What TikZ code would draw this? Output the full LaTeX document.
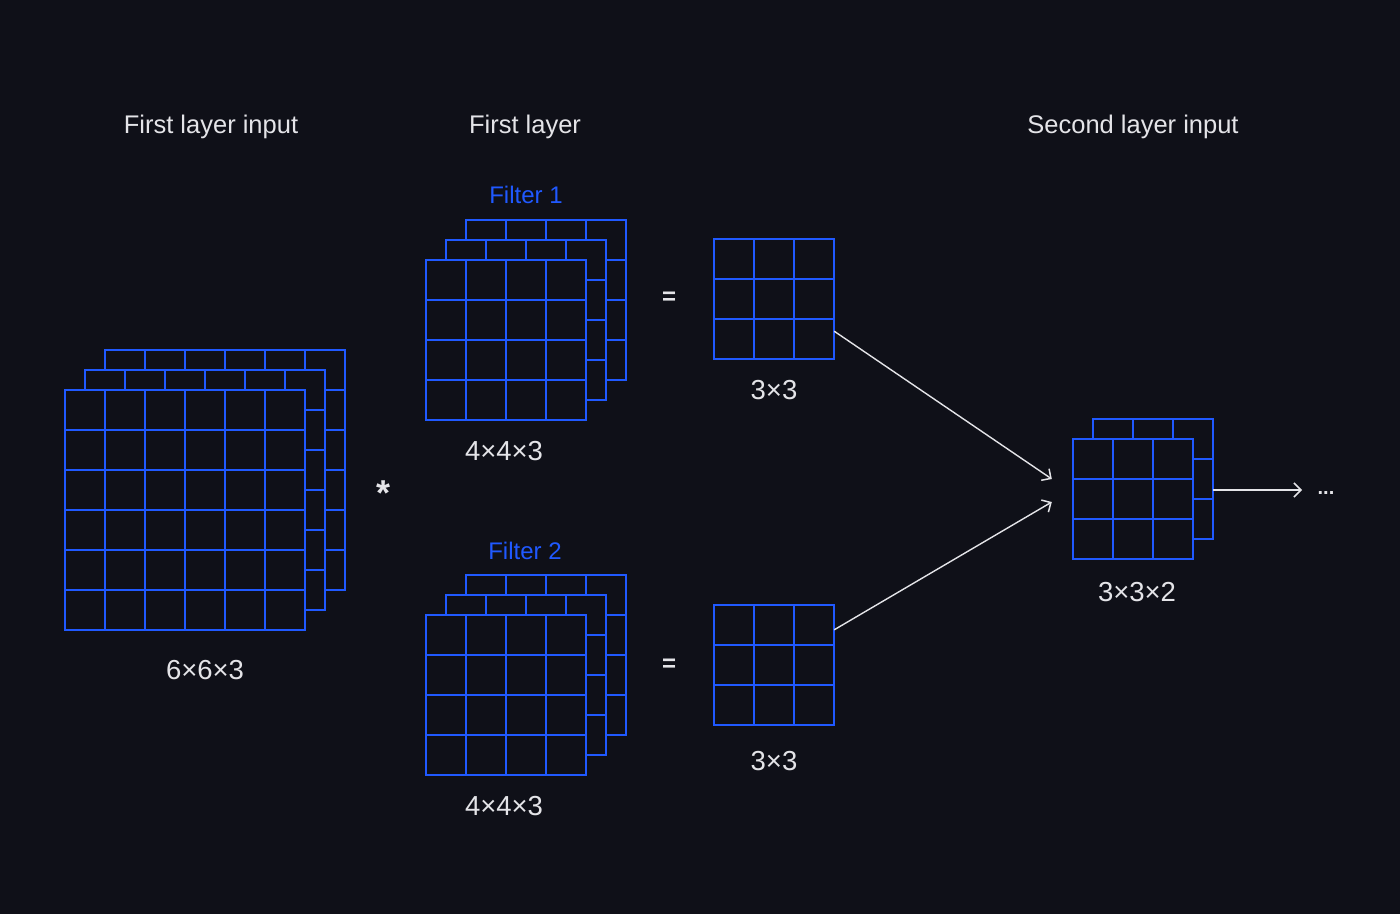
\documentclass[tikz,border=0pt]{standalone}
\usepackage{fontspec}
\setmainfont{Liberation Sans}
\usetikzlibrary{arrows.meta,calc}
\definecolor{bg}{HTML}{0F1018}
\definecolor{gridblue}{HTML}{2059FF}
\definecolor{fg}{HTML}{E4E4E8}
\tikzset{
  cell/.style={draw=gridblue,line width=2.7pt,fill=bg},
  lbl/.style={text=fg,anchor=base,inner sep=0pt,font=\fontsize{25.5}{30}\selectfont},
  dimlbl/.style={lbl,font=\fontsize{27.5}{32}\selectfont},
  flbl/.style={lbl,text=gridblue,font=\fontsize{24}{29}\selectfont},
  link/.style={draw=fg,line width=1.4pt,-{Straight Barb[length=7pt,width=14pt,line width=1.5pt]}}
}
% one stack of layers: name, x, y (front top left), cells, layers back to front
\newcommand{\stack}[5]{%
  \pgfmathtruncatemacro\m{#4-1}
  \foreach \k in {#5}{
    \begin{scope}[shift={(#2+20*\k,#3-20*\k)}]
      \filldraw[cell] (0,0) rectangle (40*#4,40*#4);
      \foreach \i in {1,...,\m}{
        \draw[cell] (40*\i,0) -- (40*\i,40*#4);
        \draw[cell] (0,40*\i) -- (40*#4,40*\i);
      }
    \end{scope}
  }
  \node[inner sep=0pt,minimum size=#4*40pt] (#1) at (#2+20*#4,#3+20*#4) {};
}
\begin{document}
\begin{tikzpicture}[x=1pt,y=-1pt]
  \fill[bg] (0,0) rectangle (1400,914);

  \stack{in}{65}{390}{6}{2,1,0}
  \stack{fa}{426}{260}{4}{2,1,0}
  \stack{fb}{426}{615}{4}{2,1,0}
  \stack{oa}{714}{239}{3}{0}
  \stack{ob}{714}{605}{3}{0}
  \stack{s}{1073}{439}{3}{1,0}

  \node (t1) at (211,133)[lbl]{First layer input};
  \node (t2) at (525,133)[lbl]{First layer};
  \node (t3) at (1133,133)[lbl]{Second layer input};
  \node (f1) at (526,203)[flbl]{Filter 1};
  \node (f2) at (525,559)[flbl]{Filter 2};

  \node (d1) at (205,679)[dimlbl]{6×6×3};
  \node (d2) at (504,460)[dimlbl]{4×4×3};
  \node (d3) at (504,815)[dimlbl]{4×4×3};
  \node (d4) at (774,399)[dimlbl]{3×3};
  \node (d5) at (774,770)[dimlbl]{3×3};
  \node (d6) at (1137,601)[dimlbl]{3×3×2};

  \node (star) at (384,505)[lbl,font=\fontsize{36}{40}\selectfont\bfseries]{*};
  \node (eqa) at (669,304)[lbl,font=\fontsize{24}{29}\selectfont\bfseries]{=};
  \node (eqb) at (669,671)[lbl,font=\fontsize{24}{29}\selectfont\bfseries]{=};
  \node (dots) at (1326,494)[lbl,font=\fontsize{20}{24}\selectfont\bfseries]{...};

  \coordinate (nx) at (1302,490);
  \draw[link] ([yshift=28pt]oa.south east) -- ([xshift=-21pt,yshift=20pt]s.west);
  \draw[link] ([yshift=-25pt]ob.north east) -- ([xshift=-21pt,yshift=-3pt]s.west);
  \draw[link] ([xshift=20pt,yshift=9pt]s.east) -- (nx);
\end{tikzpicture}
\end{document}
